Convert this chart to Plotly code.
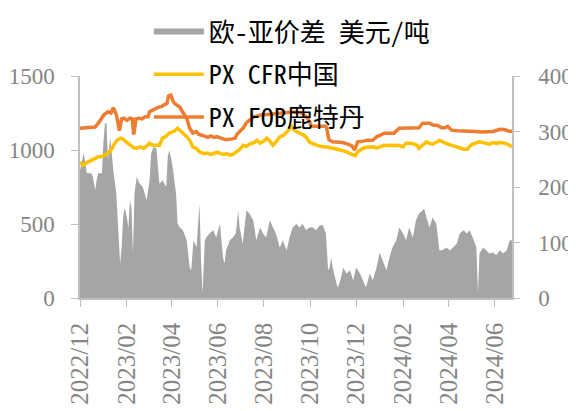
import plotly.graph_objects as go

spread_dates = [
    "2022-12-01","2022-12-06","2022-12-10","2022-12-16","2022-12-18","2022-12-21","2022-12-23","2022-12-25","2022-12-30",
    "2023-01-01","2023-01-03","2023-01-05","2023-01-07","2023-01-10","2023-01-14","2023-01-18","2023-01-23","2023-01-25","2023-01-27","2023-01-29",
    "2023-02-01","2023-02-03","2023-02-05","2023-02-07","2023-02-09","2023-02-11","2023-02-14","2023-02-18","2023-02-22","2023-02-27",
    "2023-03-03","2023-03-05","2023-03-08","2023-03-12","2023-03-14","2023-03-16","2023-03-20","2023-03-25","2023-03-27","2023-03-29",
    "2023-04-01","2023-04-03","2023-04-07","2023-04-09","2023-04-12","2023-04-16","2023-04-21","2023-04-25","2023-04-27","2023-04-30",
    "2023-05-04","2023-05-08","2023-05-10","2023-05-12","2023-05-15","2023-05-17","2023-05-21","2023-05-26","2023-05-30",
    "2023-06-04","2023-06-08","2023-06-10","2023-06-12","2023-06-17","2023-06-21","2023-06-25","2023-06-28","2023-06-30",
    "2023-07-04","2023-07-09","2023-07-13","2023-07-18","2023-07-22","2023-07-27","2023-07-31",
    "2023-08-04","2023-08-09","2023-08-13","2023-08-17","2023-08-22","2023-08-26","2023-08-31",
    "2023-09-04","2023-09-08","2023-09-13","2023-09-17","2023-09-21","2023-09-26","2023-09-30",
    "2023-10-05","2023-10-09","2023-10-14","2023-10-18","2023-10-22","2023-10-25","2023-10-27","2023-10-29","2023-10-31",
    "2023-11-05","2023-11-07","2023-11-11","2023-11-14","2023-11-18","2023-11-23","2023-11-27",
    "2023-12-01","2023-12-06","2023-12-10","2023-12-14","2023-12-19","2023-12-23","2023-12-28",
    "2024-01-01","2024-01-05","2024-01-10","2024-01-14","2024-01-18","2024-01-23","2024-01-27",
    "2024-02-01","2024-02-05","2024-02-09","2024-02-14","2024-02-18","2024-02-22","2024-02-27","2024-02-29",
    "2024-03-03","2024-03-07","2024-03-11","2024-03-16","2024-03-20","2024-03-24","2024-03-29",
    "2024-04-03","2024-04-07","2024-04-12","2024-04-16","2024-04-21","2024-04-25","2024-04-29",
    "2024-05-03","2024-05-08","2024-05-10","2024-05-12","2024-05-17","2024-05-21","2024-05-25","2024-05-30",
    "2024-06-03","2024-06-08","2024-06-12","2024-06-17","2024-06-21","2024-06-24",
]
spread_values = [
    230,261,225,225,218,194,212,225,225,
    281,315,315,248,290,230,188,62,91,145,163,
    145,127,176,163,80,188,218,206,200,176,
    212,260,272,270,236,206,212,200,254,266,
    248,230,188,134,127,122,104,55,50,104,
    91,170,68,8,104,109,116,122,109,
    134,73,62,86,104,109,116,158,127,
    98,158,152,140,104,127,116,
    109,140,127,116,91,104,86,
    109,127,134,127,134,122,127,
    127,122,131,131,116,50,55,73,55,
    26,19,37,55,44,50,32,
    55,44,32,19,44,32,55,
    82,68,50,73,91,104,127,
    116,104,127,109,140,152,158,161,
    145,127,145,134,86,86,91,
    86,91,98,116,122,116,122,
    109,91,8,80,91,86,80,82,
    77,86,80,86,104,104,
]

cfr_dates = [
    "2022-12-01","2022-12-05","2022-12-10","2022-12-16","2022-12-21","2022-12-25","2022-12-30",
    "2023-01-03","2023-01-07","2023-01-11","2023-01-16","2023-01-20","2023-01-24","2023-01-28","2023-01-31",
    "2023-02-03","2023-02-06","2023-02-10","2023-02-14","2023-02-19","2023-02-23","2023-02-27",
    "2023-03-03","2023-03-07","2023-03-12","2023-03-16","2023-03-20","2023-03-24","2023-03-29",
    "2023-04-04","2023-04-09","2023-04-13","2023-04-16","2023-04-21","2023-04-25","2023-04-29",
    "2023-05-04","2023-05-08","2023-05-14","2023-05-18","2023-05-23","2023-05-28",
    "2023-06-01","2023-06-05","2023-06-09","2023-06-13","2023-06-17","2023-06-21","2023-06-25","2023-06-29",
    "2023-07-05","2023-07-09","2023-07-13","2023-07-19","2023-07-23","2023-07-27",
    "2023-08-01","2023-08-05","2023-08-09","2023-08-13","2023-08-18","2023-08-22","2023-08-27","2023-08-31",
    "2023-09-04","2023-09-07","2023-09-11","2023-09-15","2023-09-19","2023-09-23","2023-09-27","2023-09-30",
    "2023-10-06","2023-10-10","2023-10-15","2023-10-20","2023-10-24","2023-10-28",
    "2023-11-01","2023-11-06","2023-11-10","2023-11-15","2023-11-19","2023-11-23","2023-11-28","2023-11-30",
    "2023-12-03","2023-12-10","2023-12-15","2023-12-19","2023-12-24","2023-12-28",
    "2024-01-01","2024-01-07","2024-01-12","2024-01-17","2024-01-22","2024-01-27",
    "2024-02-01","2024-02-05","2024-02-11","2024-02-16","2024-02-20","2024-02-22","2024-02-28",
    "2024-03-03","2024-03-07","2024-03-11","2024-03-17","2024-03-20","2024-03-26","2024-03-30",
    "2024-04-03","2024-04-07","2024-04-13","2024-04-16","2024-04-21","2024-04-26","2024-04-29",
    "2024-05-03","2024-05-09","2024-05-12","2024-05-17","2024-05-22","2024-05-25","2024-05-30",
    "2024-06-04","2024-06-08","2024-06-13","2024-06-18","2024-06-21","2024-06-24",
]
cfr_values = [
    920,897,915,931,945,953,958,
    965,980,999,1046,1070,1080,1070,1055,
    1040,1032,1015,1012,1021,1010,1025,
    1046,1032,1030,1032,1080,1090,1114,
    1125,1147,1130,1114,1090,1066,1021,
    1010,987,975,980,970,980,
    985,975,970,975,965,970,985,999,
    1032,1025,1040,1050,1066,1046,
    1060,1080,1060,1032,1060,1089,1100,1123,
    1140,1157,1130,1120,1110,1100,1080,1055,
    1040,1032,1025,1021,1021,1015,
    1012,1005,999,995,987,975,965,962,
    987,1012,1018,1021,1021,1012,
    1021,1032,1030,1032,1032,1030,
    1021,1046,1046,1040,1030,1012,1040,
    1055,1045,1040,1055,1066,1050,1040,
    1035,1030,1020,1010,1005,1005,1025,
    1040,1050,1055,1050,1045,1040,1050,
    1045,1050,1048,1040,1030,1021,
]

fob_dates = [
    "2022-12-01","2022-12-08","2022-12-14","2022-12-21","2022-12-25","2022-12-29",
    "2023-01-02","2023-01-07","2023-01-11","2023-01-14","2023-01-18","2023-01-22","2023-01-25","2023-01-28",
    "2023-02-01","2023-02-05","2023-02-08","2023-02-10","2023-02-13","2023-02-17","2023-02-21","2023-02-25",
    "2023-03-01","2023-03-03","2023-03-07","2023-03-11","2023-03-15","2023-03-19","2023-03-23","2023-03-26","2023-03-28","2023-03-31",
    "2023-04-03","2023-04-05","2023-04-08","2023-04-12","2023-04-14","2023-04-18","2023-04-21","2023-04-25","2023-04-29",
    "2023-05-04","2023-05-07","2023-05-11","2023-05-15","2023-05-19","2023-05-23","2023-05-27","2023-05-31",
    "2023-06-04","2023-06-08","2023-06-12","2023-06-16","2023-06-20","2023-06-24","2023-06-27",
    "2023-07-01","2023-07-05","2023-07-09","2023-07-13","2023-07-19","2023-07-27",
    "2023-08-04","2023-08-12","2023-08-20","2023-08-28",
    "2023-09-04","2023-09-12","2023-09-20","2023-09-28",
    "2023-10-03","2023-10-11","2023-10-21","2023-10-23","2023-10-26","2023-10-31",
    "2023-11-06","2023-11-13","2023-11-20","2023-11-25","2023-11-29",
    "2023-12-03","2023-12-10","2023-12-16","2023-12-23","2023-12-28",
    "2024-01-02","2024-01-07","2024-01-14","2024-01-20","2024-01-27",
    "2024-02-03","2024-02-09","2024-02-16","2024-02-22","2024-02-27",
    "2024-03-03","2024-03-07","2024-03-12","2024-03-17","2024-03-23","2024-03-27","2024-03-31",
    "2024-04-05","2024-04-13","2024-04-21","2024-04-29",
    "2024-05-07","2024-05-15","2024-05-23","2024-05-30",
    "2024-06-08","2024-06-14","2024-06-20","2024-06-24",
]
fob_values = [
    1147,1150,1150,1155,1180,1215,
    1240,1258,1250,1285,1240,1130,1210,1215,
    1200,1215,1210,1105,1210,1215,1210,1225,
    1225,1258,1270,1283,1290,1295,1303,1315,1365,1371,
    1330,1315,1303,1290,1270,1240,1215,1147,1115,
    1125,1105,1100,1095,1085,1095,1085,1090,
    1080,1075,1070,1070,1075,1080,1110,
    1130,1150,1185,1200,1225,1235,
    1240,1245,1250,1250,
    1255,1255,1250,1215,
    1160,1160,1160,1150,1070,1055,
    1055,1050,1040,1030,1000,
    1055,1060,1066,1066,1089,
    1100,1114,1114,1114,1147,
    1147,1147,1147,1150,1181,
    1181,1181,1168,1168,1150,1150,1160,
    1134,1130,1130,1125,
    1125,1122,1122,1125,
    1140,1138,1127,1127,
]

x_tick_start = "2022-12-01"
x_range = ["2022-12-01", "2024-06-24"]

grey_axis = "#BFBFBF"
label_grey = "#858585"
serif = "Liberation Serif"
y_tick_font = dict(family=serif, size=23, color=label_grey)
x_tick_font = dict(family=serif, size=25, color=label_grey)
legend_font = dict(family="Noto Sans Mono CJK SC", size=26, color="#000000")

fig = go.Figure()

fig.add_trace(go.Scatter(
    x=spread_dates, y=spread_values, name="欧-亚价差 美元/吨",
    mode="none", fill="tozeroy", fillcolor="#A5A5A5",
    yaxis="y", legendgroup="a",
))
fig.add_trace(go.Scatter(
    x=cfr_dates, y=cfr_values, name="PX CFR中国",
    mode="lines", line=dict(color="#FFC000", width=3.5),
    yaxis="y2", legendgroup="b",
))
fig.add_trace(go.Scatter(
    x=fob_dates, y=fob_values, name="PX FOB鹿特丹",
    mode="lines", line=dict(color="#ED7D31", width=3.5),
    yaxis="y2", legendgroup="c",
))

fig.update_layout(
    width=568, height=403,
    margin=dict(l=72, r=64, t=68, b=113, autoexpand=False),
    paper_bgcolor="white", plot_bgcolor="white",
    font=dict(family=serif, color=label_grey),
    showlegend=True,
    legend=dict(
        xref="container", yref="container",
        x=0.248, y=1.0, xanchor="left", yanchor="top",
        bgcolor="rgba(0,0,0,0)", font=legend_font,
        traceorder="grouped", tracegroupgap=6,
        itemwidth=50,
    ),
    xaxis=dict(
        type="date", range=x_range, automargin=False,
        tick0=x_tick_start, dtick="M2", tickformat="%Y/%m",
        tickangle=-90, ticks="outside", ticklen=7, tickcolor=grey_axis,
        ticklabelstandoff=6,
        showline=True, linecolor=grey_axis, linewidth=1.5,
        showgrid=False, zeroline=False, tickfont=x_tick_font,
    ),
    yaxis=dict(
        side="right", range=[0, 400], dtick=100, automargin=False,
        ticks="outside", ticklen=6, tickcolor=grey_axis,
        ticklabelstandoff=14,
        showline=True, linecolor=grey_axis, linewidth=1.5,
        showgrid=False, zeroline=False, tickfont=y_tick_font,
    ),
    yaxis2=dict(
        overlaying="y", side="left", range=[0, 1500], dtick=500, automargin=False,
        ticks="outside", ticklen=7, tickcolor=grey_axis,
        ticklabelstandoff=12,
        showline=True, linecolor=grey_axis, linewidth=1.5,
        showgrid=False, zeroline=False, tickfont=y_tick_font,
    ),
)

fig.write_html("out.html")
